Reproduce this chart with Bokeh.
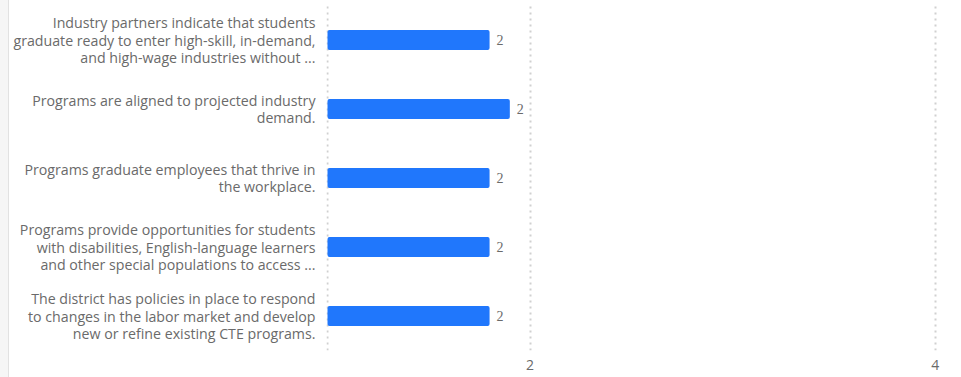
from bokeh.plotting import figure
from bokeh.models import ColumnDataSource, FactorRange, Range1d, FixedTicker, Spacer, LabelSet
from bokeh.layouts import row
from bokeh.embed import file_html
from bokeh.resources import INLINE

categories = [
    "Industry partners indicate that students\ngraduate ready to enter high-skill, in-demand,\nand high-wage industries without ...",
    "Programs are aligned to projected industry\ndemand.",
    "Programs graduate employees that thrive in\nthe workplace.",
    "Programs provide opportunities for students\nwith disabilities, English-language learners\nand other special populations to access ...",
    "The district has policies in place to respond\nto changes in the labor market and develop\nnew or refine existing CTE programs.",
]
values = [1.8, 1.9, 1.8, 1.8, 1.8]
value_labels = ["2", "2", "2", "2", "2"]
x_ticks = [1, 2, 4]
x_tick_labels = {1: "", 2: "2", 4: "4"}

FONT = "Open Sans"
GRAY = "#6a6a6a"

src = ColumnDataSource(dict(cat=categories, val=values, lab=value_labels))

p = figure(
    width=952, height=377,
    y_range=FactorRange(*reversed(categories)),
    x_range=Range1d(0.995, 4.1),
    output_backend="svg", toolbar_location=None,
    min_border_left=317, min_border_right=6, min_border_top=5, min_border_bottom=27,
)
p.hbar(y="cat", right="val", left=1, height=0.29, source=src,
       fill_color="#2077fc", line_color=None, border_radius=2)

labels = LabelSet(x="val", y="cat", text="lab", source=src, x_offset=7,
                  text_baseline="middle", text_align="left",
                  text_font_size="14px", text_color=GRAY, text_font=FONT)
p.add_layout(labels)

p.outline_line_color = None
p.ygrid.grid_line_color = None
p.xgrid.grid_line_color = "#d0d0d0"
p.xgrid.grid_line_dash = "2 4"
p.xgrid.grid_line_width = 2
p.xaxis.ticker = FixedTicker(ticks=x_ticks)
p.xaxis.major_label_overrides = x_tick_labels
p.xaxis.axis_line_color = None
p.xaxis.major_tick_line_color = None
p.xaxis.minor_tick_line_color = None
p.xaxis.major_label_text_color = GRAY
p.xaxis.major_label_text_font = FONT
p.xaxis.major_label_text_font_size = "14px"
p.xaxis.major_label_standoff = 3

p.yaxis.axis_line_color = None
p.yaxis.major_tick_line_color = None
p.yaxis.minor_tick_line_color = None
p.yaxis.major_label_text_color = GRAY
p.yaxis.major_label_text_font = FONT
p.yaxis.major_label_text_font_size = "14.2px"
p.yaxis.major_label_text_line_height = 0.92
p.yaxis.major_label_standoff = 5

side = Spacer(width=9, height=377, styles={"background-color": "#f6f6f6", "border-right": "1px solid #e2e2e2"})
layout = row(side, p)

open("out.html", "w").write(file_html(layout, INLINE))
